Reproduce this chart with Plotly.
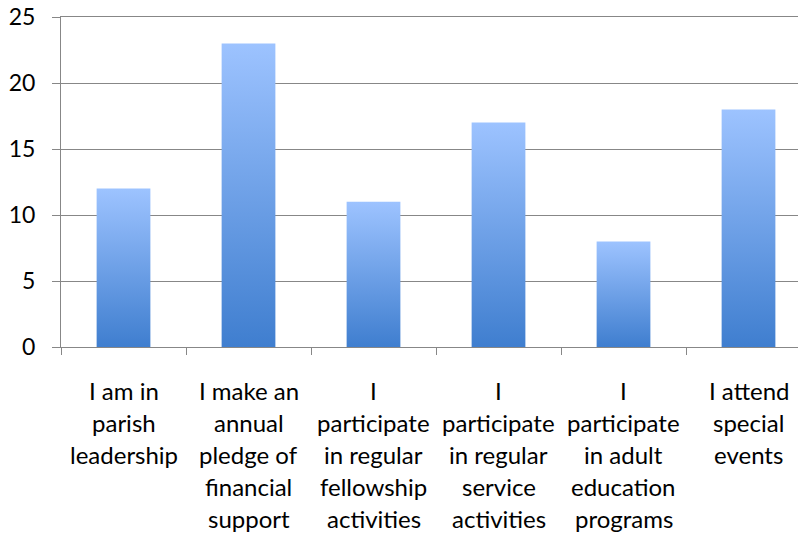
import plotly.graph_objects as go

# survey answers
labels = [
    "I am in<br>parish<br>leadership",
    "I make an<br>annual<br>pledge of<br>financial<br>support",
    "I<br>participate<br>in regular<br>fellowship<br>activities",
    "I<br>participate<br>in regular<br>service<br>activities",
    "I<br>participate<br>in adult<br>education<br>programs",
    "I attend<br>special<br>events",
]
counts = [12, 23, 11, 17, 8, 18]
y_ticks = [0, 5, 10, 15, 20, 25]

FONT = "Lato"
GRID = "#878787"
BAR_DARK = "#3f7ecf"
BAR_LIGHT = "#9dc3ff"
half = 0.215

fig = go.Figure()

for i, v in enumerate(counts):
    # gradient bar as a filled polygon (plain bars have no gradient fill)
    fig.add_trace(go.Scatter(
        x=[i - half, i - half, i + half, i + half, i - half],
        y=[0, v, v, 0, 0],
        mode="lines",
        line={"width": 0},
        fill="toself",
        fillgradient={"type": "vertical", "colorscale": [[0, BAR_DARK], [1, BAR_LIGHT]]},
        hoverinfo="skip",
        showlegend=False,
    ))

# category labels, one annotation per line to get Excel-like line spacing
for i, lab in enumerate(labels):
    for j, line in enumerate(lab.split("<br>")):
        fig.add_annotation(
            x=i, xref="x", y=0, yref="paper",
            text=line, showarrow=False,
            yanchor="middle", xanchor="center",
            yshift=-(43 + 32.2 * j),
            font={"family": FONT, "size": 24, "color": "black"},
        )

# page body has an 8px margin, so the figure is 8px smaller and margins shifted
fig.update_layout(
    width=798,
    height=528,
    margin={"l": 53, "r": 0, "t": 9, "b": 189, "autoexpand": False},
    plot_bgcolor="white",
    paper_bgcolor="white",
    xaxis={
        "range": [-0.5, 5.46],
        "showgrid": False,
        "zeroline": False,
        # mirrored line stands in for the top gridline, which plotly drops at the edge
        "showline": True,
        "mirror": True,
        "linecolor": GRID,
        "tickvals": [],
        "minor": {
            "tickvals": [k - 0.5 for k in range(len(counts) + 1)],
            "ticks": "outside",
            "ticklen": 7,
            "tickcolor": GRID,
            "tickwidth": 1,
            "showgrid": False,
        },
    },
    yaxis={
        "range": [0, 25],
        "tickvals": y_ticks,
        "showgrid": True,
        "gridcolor": GRID,
        "gridwidth": 1,
        "zeroline": False,
        "showline": True,
        "linecolor": GRID,
        "ticks": "outside",
        "ticklen": 8,
        "tickcolor": GRID,
        "ticklabelstandoff": 12,
        "ticklabeloverflow": "allow",
        "automargin": False,
        "tickfont": {"family": FONT, "size": 23, "color": "black"},
    },
)

fig.write_html("out.html")
